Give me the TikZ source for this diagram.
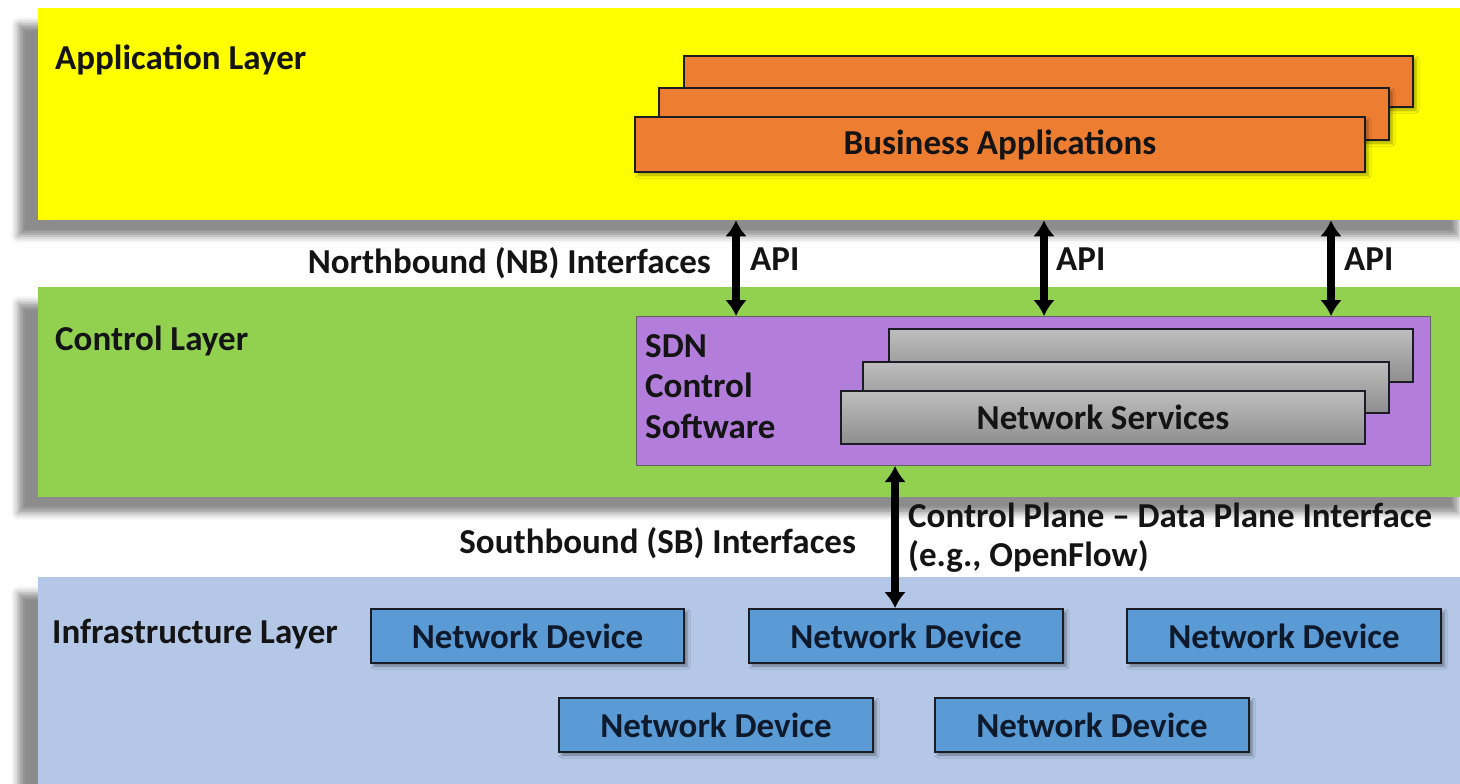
\documentclass[tikz,border=0pt]{standalone}
\usepackage{fontspec}
\setmainfont{Carlito}
\usetikzlibrary{arrows.meta,shadows.blur}

\definecolor{appyellow}{HTML}{FFFF00}
\definecolor{ctrlgreen}{HTML}{92D050}
\definecolor{infrablue}{HTML}{B4C7E7}
\definecolor{sdnpurple}{HTML}{B37EDB}
\definecolor{bizorange}{HTML}{ED7D31}
\definecolor{devblue}{HTML}{5B9BD5}
\definecolor{nstop}{HTML}{BEBEBE}
\definecolor{nsbot}{HTML}{8E8E8E}
\definecolor{inktext}{HTML}{141414}
\definecolor{devtext}{HTML}{0E1A2B}
\definecolor{edge}{HTML}{1C1C24}

\tikzset{
  txt/.style={font=\fontsize{35}{40}\selectfont\bfseries, text=inktext, inner sep=0pt},
  layer/.style={draw=none, inner sep=0pt, anchor=north west,
    blur shadow={shadow xshift=-20pt, shadow yshift=-16pt,
      shadow blur radius=7pt, shadow opacity=45}},
  bizbox/.style={draw=edge, line width=2pt, fill=bizorange, inner sep=0pt,
    anchor=north west,
    blur shadow={shadow xshift=3pt, shadow yshift=-3pt,
      shadow blur radius=3pt, shadow opacity=35}},
  nsbox/.style={draw=edge, line width=2pt, top color=nstop, bottom color=nsbot,
    inner sep=0pt, anchor=north west},
  devbox/.style={draw=edge, line width=2pt, fill=devblue, inner sep=0pt,
    anchor=north west, font=\fontsize{35}{40}\selectfont\bfseries, text=devtext,
    blur shadow={shadow xshift=3pt, shadow yshift=-3pt,
      shadow blur radius=3pt, shadow opacity=40}},
  biarrow/.style={line width=7.5pt, draw=black,
    {Latex[length=16pt,width=22pt]}-{Latex[length=16pt,width=22pt]}},
}

\begin{document}
\begin{tikzpicture}[x=1pt,y=-1pt]
\useasboundingbox (0,0) rectangle (1460,784);
\clip (0,0) rectangle (1460,784);

% the three layers
\node[layer, fill=appyellow, minimum width=1440pt, minimum height=212pt] (app) at (38,8) {};
\node[layer, fill=ctrlgreen, minimum width=1440pt, minimum height=210pt] (ctrl) at (38,287) {};
\node[layer, fill=infrablue, minimum width=1440pt, minimum height=230pt] (infra) at (38,577) {};

% layer titles
\node[txt, anchor=base west] (applbl) at (55,70) {Application Layer};
\node[txt, anchor=base west] (ctrllbl) at (55,350) {Control Layer};
\node[txt, anchor=base west] (infralbl) at (52,643) {Infrastructure Layer};

% business applications stack
\node[bizbox, minimum width=729pt, minimum height=51pt] (biz3) at (683,55) {};
\node[bizbox, minimum width=730pt, minimum height=52pt] (biz2) at (658,87) {};
\node[bizbox, minimum width=730pt, minimum height=55pt, txt] (biz1) at (634,116) {Business Applications};

% SDN controller with network services
\node[draw=edge!70, line width=1pt, fill=sdnpurple, inner sep=0pt, anchor=north west,
  minimum width=794pt, minimum height=149pt] (sdn) at (636,316) {};
\node[txt, anchor=north west, align=left, font=\fontsize{35}{40.5}\selectfont\bfseries] (sdnlbl) at (645,334) {SDN\\Control\\Software};
\node[nsbox, minimum width=524pt, minimum height=53pt] (ns3) at (888,328) {};
\node[nsbox, minimum width=526pt, minimum height=51pt] (ns2) at (862,361) {};
\node[nsbox, minimum width=524pt, minimum height=53pt, txt] (ns1) at (840,390) {Network Services};

% network devices
\node[devbox, minimum width=313pt, minimum height=54pt] (dev1) at (370,608) {Network Device};
\node[devbox, minimum width=314pt, minimum height=54pt] (dev2) at (748,608) {Network Device};
\node[devbox, minimum width=314pt, minimum height=54pt] (dev3) at (1126,608) {Network Device};
\node[devbox, minimum width=314pt, minimum height=54pt] (dev4) at (558,697) {Network Device};
\node[devbox, minimum width=314pt, minimum height=54pt] (dev5) at (934,697) {Network Device};

% northbound API arrows
\coordinate (api1) at (736,0);
\coordinate (api2) at (1044,0);
\coordinate (api3) at (1331,0);
\draw[biarrow] (api1 |- app.south) -- (api1 |- sdn.north);
\draw[biarrow] (api2 |- app.south) -- (api2 |- sdn.north);
\draw[biarrow] (api3 |- app.south) -- (api3 |- sdn.north);
\node[txt, anchor=base west] (apilbl1) at (750,270) {API};
\node[txt, anchor=base west] (apilbl2) at (1056,270) {API};
\node[txt, anchor=base west] (apilbl3) at (1344,270) {API};
\node[txt, anchor=base east] (nblbl) at (711,273) {Northbound (NB) Interfaces};

% southbound arrow
\coordinate (sb) at (895,0);
\draw[biarrow] (sb |- sdn.south) -- (sb |- dev2.north);
\node[txt, anchor=base east] (sblbl) at (856,553) {Southbound (SB) Interfaces};
\node[txt, anchor=base west] (cpdp) at (908,527) {Control Plane -- Data Plane Interface};
\node[txt, anchor=base west] (ofl) at (908,566) {(e.g., OpenFlow)};
\end{tikzpicture}
\end{document}
